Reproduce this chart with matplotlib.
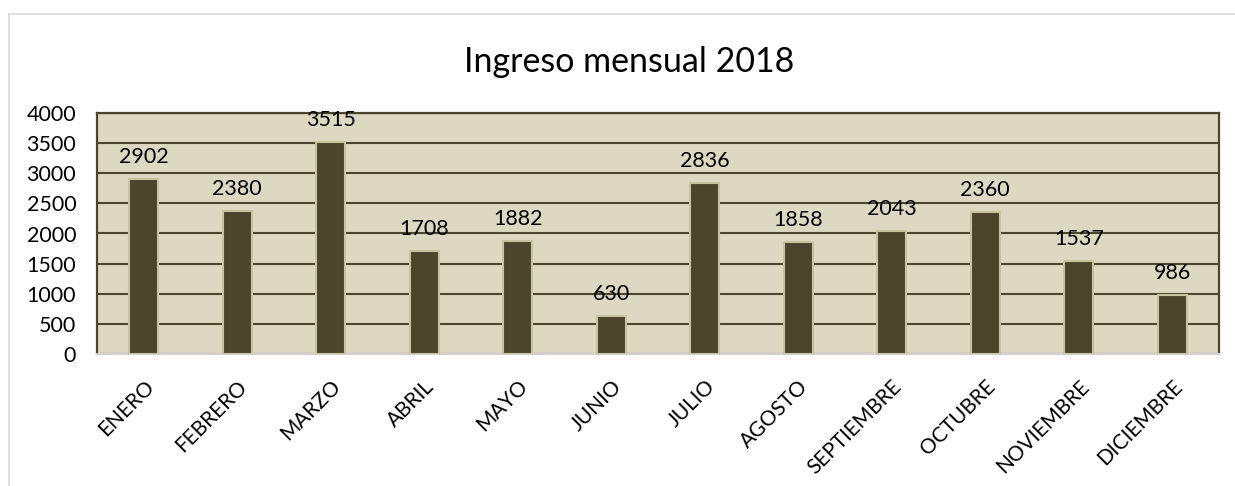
import matplotlib
matplotlib.use("Agg")
import matplotlib.pyplot as plt
from matplotlib.lines import Line2D

months = ["ENERO", "FEBRERO", "MARZO", "ABRIL", "MAYO", "JUNIO", "JULIO",
          "AGOSTO", "SEPTIEMBRE", "OCTUBRE", "NOVIEMBRE", "DICIEMBRE"]
values = [2902, 2380, 3515, 1708, 1882, 630, 2836, 1858, 2043, 2360, 1537, 986]
yticks = [0, 500, 1000, 1500, 2000, 2500, 3000, 3500, 4000]
title = "Ingreso mensual 2018"

plt.rcParams['font.family'] = ['Lato', 'DejaVu Sans']

W, H = 1235, 486
fig = plt.figure(figsize=(W / 100, H / 100), dpi=100)
fig.patch.set_facecolor("white")

# outer chart frame (left and top visible)
fig.add_artist(Line2D([9 / W, 9 / W], [0, 1 - 14 / H], transform=fig.transFigure,
                      color="#d9d9d9", lw=1.2))
fig.add_artist(Line2D([9 / W, 1], [1 - 14 / H, 1 - 14 / H], transform=fig.transFigure,
                      color="#d9d9d9", lw=1.2))

left, right, top, bottom = 97, 1219, 113, 354
ax = fig.add_axes([left / W, 1 - bottom / H, (right - left) / W, (bottom - top) / H])
ax.set_facecolor("#ddd8c2")

x = list(range(len(months)))
bars = ax.bar(x, values, width=0.31, color="#4b452e", edgecolor="#c9c29e",
              linewidth=1.5, zorder=3)

ax.set_xlim(-0.5, len(months) - 0.5)
ax.set_ylim(0, 4000)
ax.set_yticks(yticks)
ax.set_yticklabels([str(v) for v in yticks], fontsize=15.5)
ax.yaxis.grid(True, color="#4b452e", lw=1.5, zorder=1)
ax.set_axisbelow(True)
ax.tick_params(axis="y", length=0, pad=15)
ax.tick_params(axis="x", length=0, pad=16)
ax.set_xticks(x)
ax.set_xticklabels(months, rotation=45, ha="right", rotation_mode="anchor",
                   fontsize=15)

for s in ["left", "top", "right"]:
    ax.spines[s].set_color("#4b452e")
    ax.spines[s].set_linewidth(1.6)
ax.spines["bottom"].set_color("#d0d0d0")
ax.spines["bottom"].set_linewidth(1.5)

for xi, v in zip(x, values):
    ax.annotate(str(v), (xi, v), xytext=(0, 12), textcoords="offset pixels",
                ha="center", va="bottom", fontsize=15.5, zorder=4)

fig.text(629 / W, 1 - 62 / H, title, ha="center", va="center", fontsize=24.5)

fig.savefig("out.png", dpi=100)
